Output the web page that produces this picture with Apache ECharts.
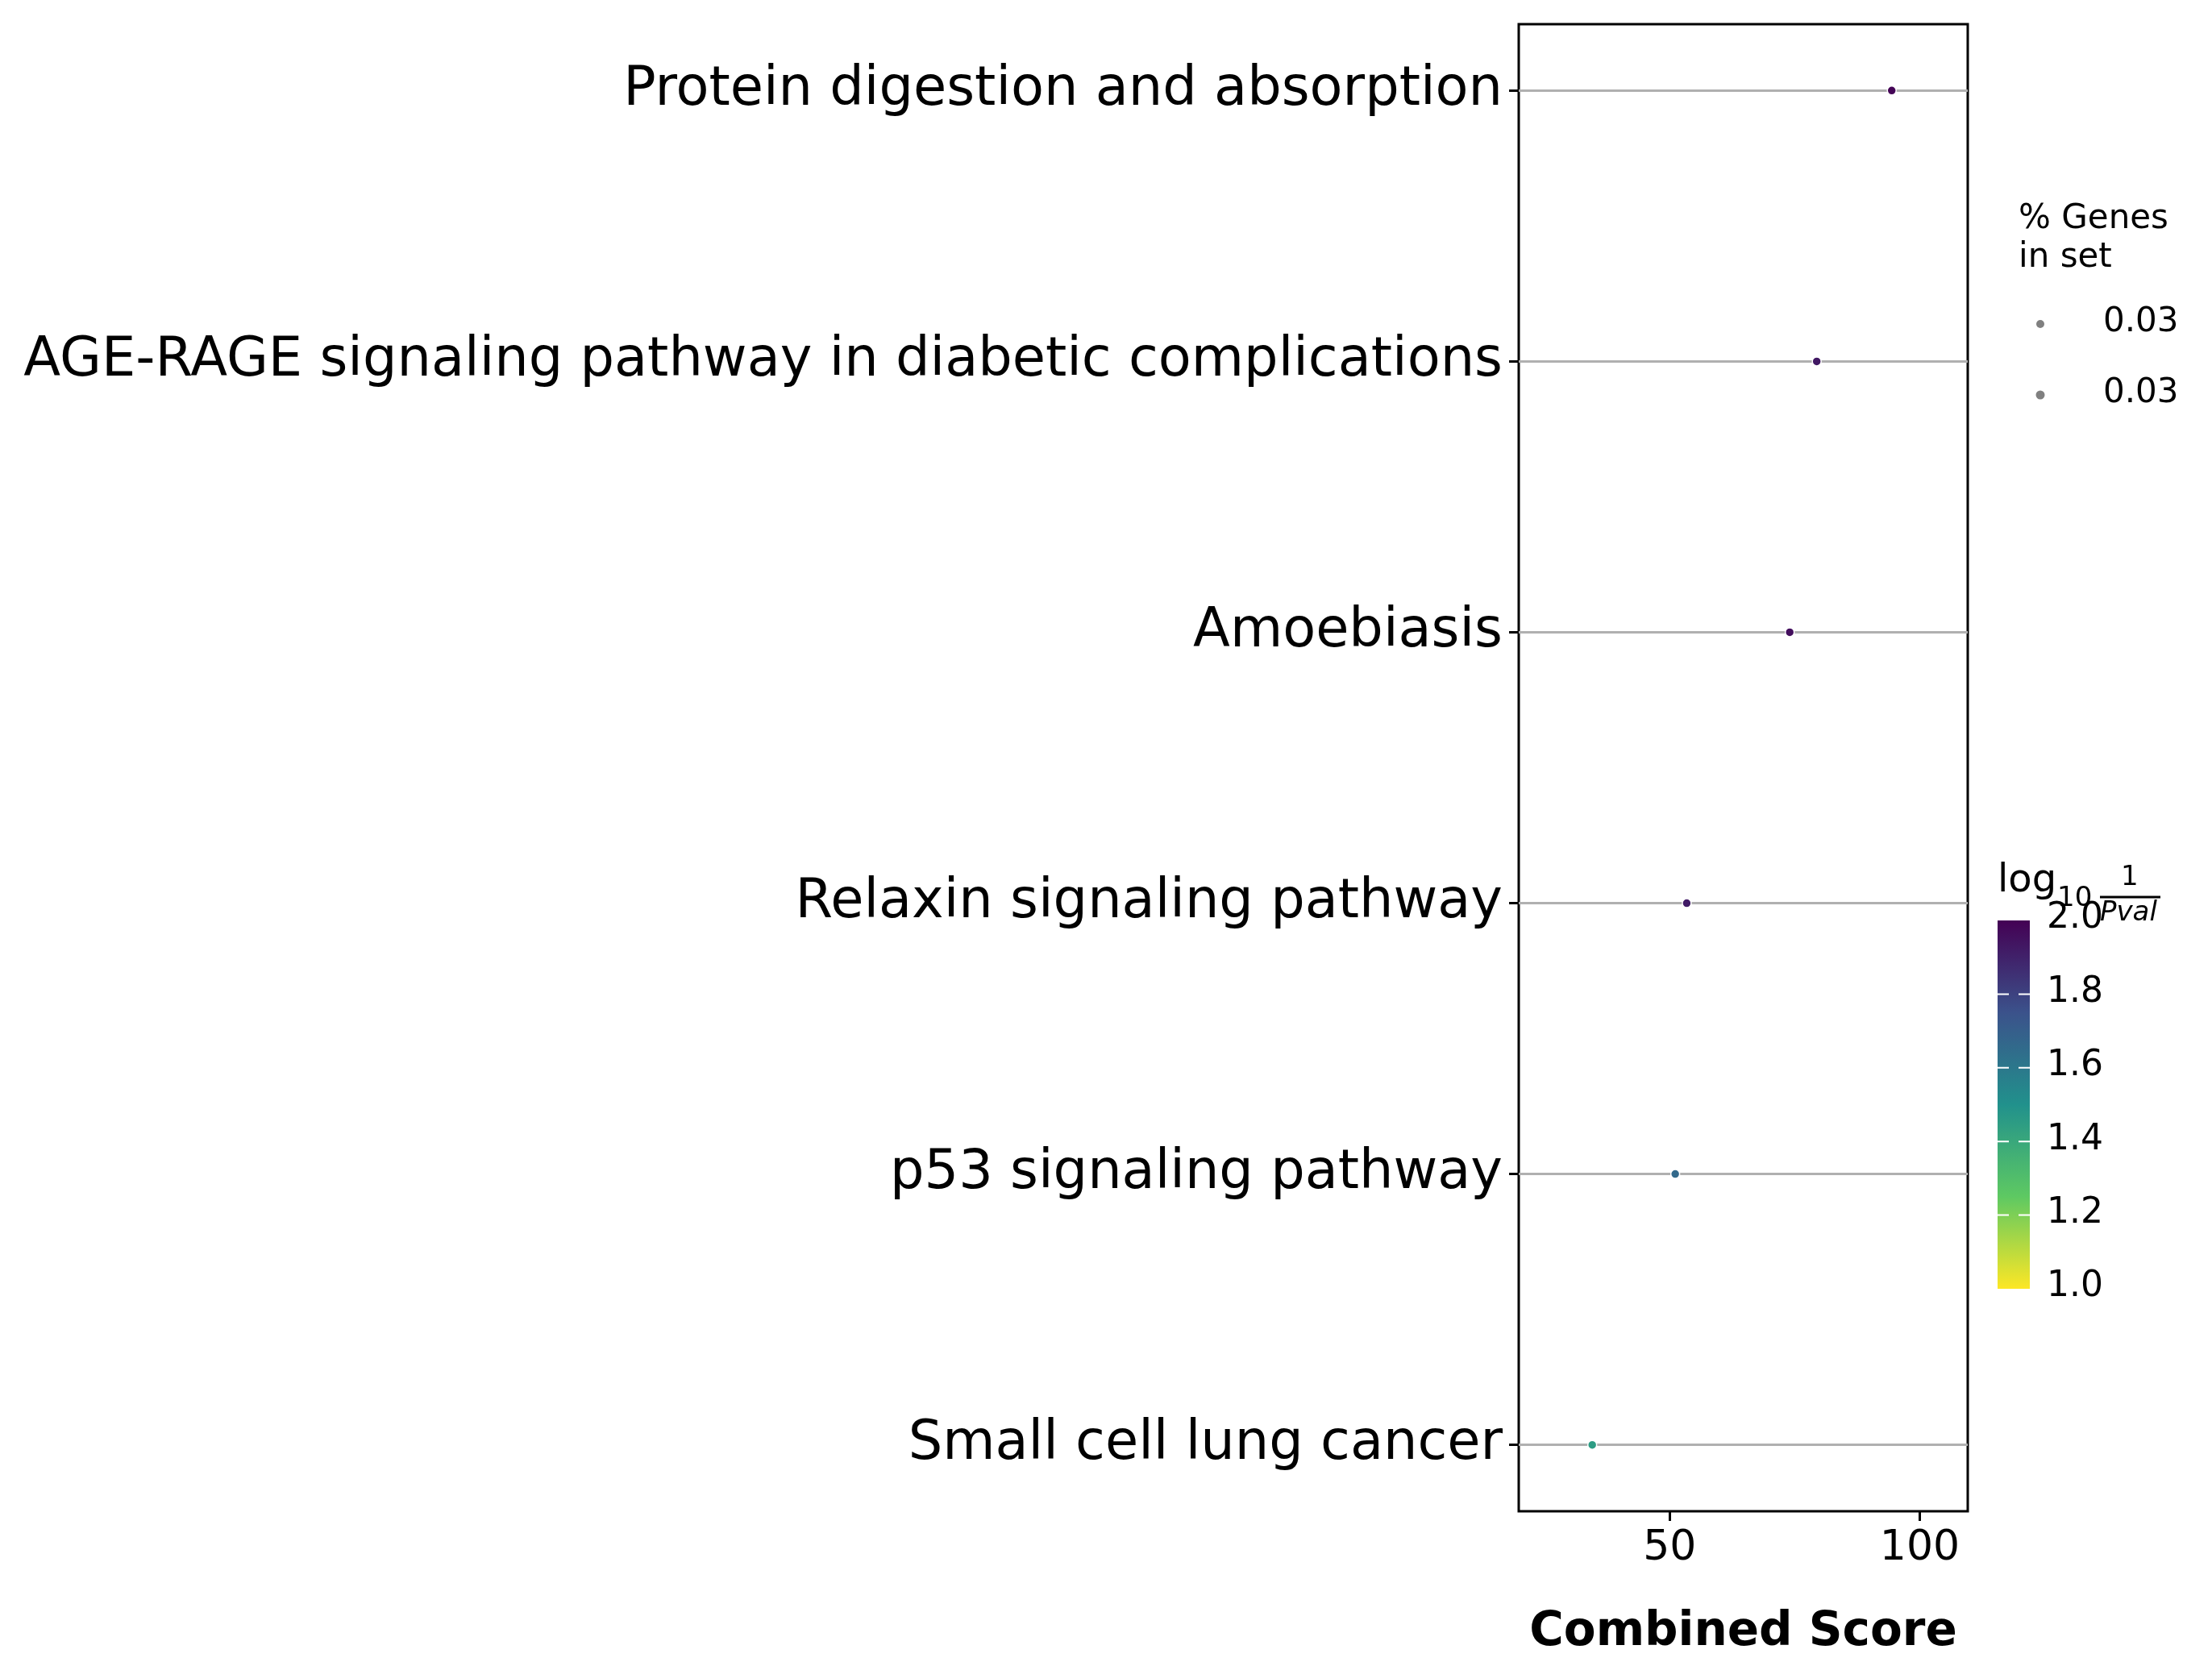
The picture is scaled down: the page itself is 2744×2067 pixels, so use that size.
<!DOCTYPE html>
<html><head><meta charset="utf-8">
<script src="https://cdn.jsdelivr.net/npm/echarts@6/dist/echarts.min.js"></script>
<style>html,body{margin:0;padding:0;background:#fff}#c{width:2744px;height:2067px}</style>
</head><body><div id="c"></div>
<script>
const terms = ['Small cell lung cancer', 'p53 signaling pathway', 'Relaxin signaling pathway',
  'Amoebiasis', 'AGE-RAGE signaling pathway in diabetic complications', 'Protein digestion and absorption'];
const scores = [34.5, 51.1, 53.4, 74.0, 79.4, 94.4];
const logP = [1.45, 1.66, 1.92, 1.96, 1.93, 1.99];
const cbTicks = ['2.0', '1.8', '1.6', '1.4', '1.2', '1.0'];
const viridis = ['#fde725', '#5ec962', '#21918c', '#3b528b', '#440154'];

const font = 'DejaVu Sans';
const chart = echarts.init(document.getElementById('c'));
const pts = terms.map((t, i) => [scores[i], i, logP[i]]);

// colour bar and legends
const cbLeft = 2478, cbW = 40, cbTop = 1142, cbBot = 1599;
const graphics = [
  { type: 'text', left: 2504, top: 248, style: { text: '% Genes\nin set', font: '42px DejaVu Sans', lineHeight: 48, fill: '#000' } },
  { type: 'circle', shape: { cx: 2531, cy: 402, r: 5 }, style: { fill: '#808080' } },
  { type: 'circle', shape: { cx: 2531, cy: 490, r: 5.5 }, style: { fill: '#808080' } },
  { type: 'text', left: 2609, top: 379, style: { text: '0.03', font: '42px DejaVu Sans', fill: '#000' } },
  { type: 'text', left: 2609, top: 467, style: { text: '0.03', font: '42px DejaVu Sans', fill: '#000' } },
  { type: 'text', left: 2478, top: 1070, style: { text: 'log', font: '48px DejaVu Sans', fill: '#000' } },
  { type: 'text', left: 2552, top: 1098, style: { text: '10', font: '34px DejaVu Sans', fill: '#000' } },
  { type: 'text', left: 2631, top: 1072, style: { text: '1', font: '34px DejaVu Sans', fill: '#000' } },
  { type: 'line', shape: { x1: 2605, y1: 1113, x2: 2680, y2: 1113 }, style: { stroke: '#000', lineWidth: 3 } },
  { type: 'text', left: 2605, top: 1116, style: { text: 'Pval', font: 'italic 34px DejaVu Sans', fill: '#000' } },
  { type: 'rect', shape: { x: cbLeft, y: cbTop, width: cbW, height: cbBot - cbTop },
    style: { fill: new echarts.graphic.LinearGradient(0, 1, 0, 0,
      viridis.map((c, i) => ({ offset: i / (viridis.length - 1), color: c }))) } }
];
cbTicks.forEach((t, i) => {
  const y = cbTop + (cbBot - cbTop) * i / 5;
  graphics.push({ type: 'text', left: 2539, top: y - 24, style: { text: t, font: '44px DejaVu Sans', fill: '#000' } });
  if (i > 0 && i < 5) graphics.push({ type: 'line', z: 100, shape: { x1: cbLeft, y1: y, x2: cbLeft + cbW, y2: y },
    style: { stroke: '#fff', lineWidth: 2, lineDash: [14, 12] } });
});

chart.setOption({
  animation: false,
  textStyle: { fontFamily: font },
  grid: { left: 1884, right: 303, top: 30, bottom: 192, show: true, borderColor: '#000', borderWidth: 3, backgroundColor: 'transparent' },
  xAxis: {
    type: 'value', min: 19.8, max: 109.6,
    name: 'Combined Score', nameLocation: 'middle', nameGap: 122,
    nameTextStyle: { fontSize: 58, fontWeight: 'bold', color: '#000', fontFamily: font },
    axisLine: { show: false, onZero: false },
    axisTick: { show: true, inside: false, length: 12, lineStyle: { color: '#000', width: 3 }, customValues: [50, 100] },
    axisLabel: { fontSize: 52, color: '#000', margin: 20, customValues: [50, 100] },
    splitLine: { show: false }
  },
  yAxis: {
    type: 'value', min: -0.245, max: 5.245,
    axisLine: { show: false, onZero: false },
    axisTick: { show: true, inside: false, length: 12, lineStyle: { color: '#000', width: 3 }, customValues: [0, 1, 2, 3, 4, 5] },
    axisLabel: { fontSize: 67, color: '#000', margin: 20, customValues: [0, 1, 2, 3, 4, 5],
      formatter: v => terms[Math.round(v)] || '' },
    splitLine: { show: false }
  },
  visualMap: {
    type: 'continuous', min: 1, max: 2, dimension: 2, seriesIndex: 0, show: false,
    inRange: { color: viridis }
  },
  series: [{
    type: 'scatter', data: pts, symbolSize: 11, z: 5,
    itemStyle: { borderColor: '#fff', borderWidth: 1.5, opacity: 1 },
    markLine: {
      silent: true, symbol: 'none', z: 1, label: { show: false },
      lineStyle: { color: '#b0b0b0', width: 3, type: 'solid' },
      data: terms.map((t, i) => ({ yAxis: i }))
    }
  }],
  graphic: graphics
});
</script></body></html>
